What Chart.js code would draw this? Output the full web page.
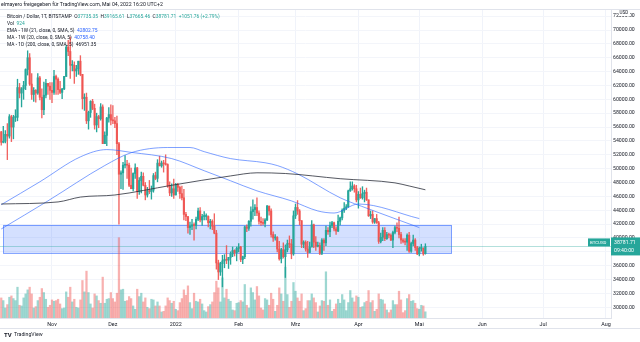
<!DOCTYPE html>
<html>
<head>
<meta charset="utf-8">
<script src="https://cdn.jsdelivr.net/npm/chart.js@4.4.0/dist/chart.umd.min.js"></script>
<style>
html, body { margin: 0; padding: 0; background: #fff; }
#wrap { width: 640px; height: 342px; }
</style>
</head>
<body>
<div id="wrap"><canvas id="myChart" width="640" height="342"></canvas></div>
<script>
// BTC/USD daily candles (Bitstamp), first candle on 2021-10-07
const startDate = '2021-10-07';

const opens = [
    55300, 53800, 53950, 54950, 54700, 57500, 56000, 57400, 57400, 61700, 60900, 61500, 62000, 64300, 66000, 62200, 60700, 61300, 60900, 63100, 60300, 58500, 60600, 62300, 61900,
    61300, 61000, 63300, 62900, 61400, 61000, 61500, 63300, 67500, 66900, 64900, 64900, 64100, 64400, 65500, 63600, 60100, 60300, 56900, 58100, 59700, 58700, 56300, 57500, 57200, 58900, 53600, 54800, 57300, 57800,
    57000, 56900, 56500, 53600, 49200, 49400, 50500, 50600, 50500, 47600, 47100, 49300, 50100, 46700, 48300, 48900, 47600, 46200, 46800, 46700, 46900, 49000, 48600, 50800, 50400, 50800, 50700, 50600, 47500, 46500, 47100,
    46200, 47700, 47300, 46400, 45800, 43400, 43100, 41500, 41700, 41900, 41800, 42700, 43900, 42600, 43100, 43100, 43100, 42200, 42400, 41700, 40700, 36400, 35100, 36300, 36700, 36900, 36800, 37200, 37700, 38200, 37900,
    38500, 38700, 36900, 37300, 41600, 41400, 42400, 43800, 44100, 44400, 43600, 42400, 42200, 42100, 42600, 44600, 43900, 40500, 40000, 40100, 38400, 37000, 38300, 37300, 38300, 39200, 39100, 37700,
    43200, 44400, 43900, 42500, 39100, 39400, 38400, 37900, 38700, 41900, 39400, 38800, 38900, 37800, 39700, 39300, 41100, 40900, 41800, 42200, 41300, 41000, 42400, 42900, 44000, 44300, 44500, 46800, 47100, 47500, 47100,
    45500, 46300, 45800, 46400, 46600, 45500, 43200, 43400, 42300, 42800, 42200, 39500, 40100, 41100, 39900, 40500, 40400, 39700, 40800, 41500, 41400, 40500, 39700, 39500, 39400, 40400, 38100, 39200, 39700, 38600,
    37700, 38500, 38500, 37735.35
];
const highs = [
    55400, 56100, 55500, 56500, 57800, 57700, 57700, 58500, 62900, 62300, 61700, 62600, 64400, 67000, 66600, 63700, 61700, 61400, 63700, 63300, 61500, 62500, 62900, 62300, 62400,
    62400, 64200, 63500, 63100, 62600, 61600, 63300, 67800, 68500, 69000, 65600, 65400, 64900, 65500, 66300, 63600, 60800, 60900, 58300, 59800, 60000, 59300, 58000, 57700, 59400, 59200, 55300, 57400, 58800, 59200,
    59100, 57400, 57600, 53800, 49700, 50900, 51900, 51200, 50800, 50100, 49400, 50700, 50200, 48700, 49500, 49400, 48000, 47300, 48300, 47500, 49300, 49500, 51300, 51800, 51100, 51200, 52000, 50700, 48100, 47800, 48500,
    47900, 47900, 47500, 47500, 47000, 43700, 43100, 42300, 42700, 42200, 43000, 44300, 44400, 43400, 43800, 43500, 43200, 42700, 42600, 43500, 41100, 36800, 36500, 37500, 37600, 38900, 37200, 38000, 38700, 38300, 38700,
    39200, 38800, 37400, 41700, 41900, 42500, 44500, 45500, 44800, 45800, 43900, 43000, 42800, 42800, 44700, 44600, 44200, 40900, 40500, 40200, 39500, 38500, 39300, 39000, 39700, 40300, 39800, 43900,
    44900, 45400, 44100, 42500, 39600, 39600, 39500, 39400, 42500, 42000, 40200, 39400, 39300, 39900, 39900, 41700, 41500, 42300, 42400, 42300, 41600, 43300, 43000, 44200, 45100, 44800, 46900, 48100, 48100, 47700, 47600,
    46700, 47200, 47400, 46900, 47200, 45500, 43900, 43900, 42800, 43400, 42400, 40700, 41500, 41500, 40800, 40700, 40600, 41000, 41700, 42200, 43000, 40800, 39900, 39900, 40600, 40800, 39400, 40400, 39900, 38800,
    38700, 39100, 38600, 39165.61
];
const lows = [
    53400, 53700, 53700, 51300, 54400, 53900, 54300, 56800, 56900, 60200, 58900, 60000, 61400, 63500, 62000, 60000, 59700, 59600, 60700, 59900, 57300, 57800, 60200, 60700, 60000,
    59500, 60700, 60700, 60700, 60800, 60100, 61400, 63300, 66300, 63000, 64100, 62300, 63300, 63600, 63400, 58600, 58400, 56500, 55700, 57400, 58500, 55700, 55300, 55900, 57000, 53600, 53600, 53300, 56700, 56300,
    56500, 55900, 52000, 42000, 47100, 47000, 50100, 48600, 47400, 47100, 46800, 48600, 45700, 46300, 46500, 47500, 45500, 45900, 46400, 45600, 46600, 48400, 48100, 50400, 50200, 49500, 50500, 47300, 46100, 46000, 45700,
    46200, 46700, 45700, 45500, 42600, 42500, 40700, 40500, 41200, 39700, 41300, 42500, 42300, 41800, 42600, 42600, 41600, 41300, 41200, 40600, 35500, 34000, 34600, 32950, 35700, 36300, 35600, 36200, 37300, 37400, 36700,
    38000, 36600, 36300, 37000, 40900, 41100, 41700, 42700, 43200, 43200, 42000, 41800, 41900, 41600, 42500, 43300, 40100, 39500, 39700, 38000, 36800, 36400, 37100, 34300, 38000, 38600, 37000, 37500,
    42800, 43400, 41900, 38600, 38600, 38100, 37200, 37900, 38700, 38600, 38200, 38700, 37600, 37600, 38200, 38900, 40500, 40200, 41500, 41000, 40500, 40900, 41900, 42600, 43700, 44100, 44400, 46700, 46900, 46600, 45200,
    44300, 45700, 45600, 45200, 45400, 43100, 42800, 42100, 42100, 42100, 39200, 39300, 39600, 39600, 39800, 40000, 39600, 38600, 40600, 40900, 40000, 39200, 39300, 39000, 38200, 37900, 37900, 38900, 38200, 37600,
    37400, 38100, 37500, 37665.46
];
const closes = [
    53800, 53950, 54950, 54700, 57500, 56000, 57400, 57400, 61700, 60900, 61500, 62000, 64300, 66000, 62200, 60700, 61300, 60900, 63100, 60300, 58500, 60600, 62300, 61900, 61300,
    61000, 63300, 62900, 61400, 61000, 61500, 63300, 67500, 66900, 64900, 64900, 64100, 64400, 65500, 63600, 60100, 60300, 56900, 58100, 59700, 58700, 56300, 57500, 57200, 58900, 53600, 54800, 57300, 57800, 57000,
    56900, 56500, 53600, 49200, 49400, 50500, 50600, 50500, 47600, 47100, 49300, 50100, 46700, 48300, 48900, 47600, 46200, 46800, 46700, 46900, 49000, 48600, 50800, 50400, 50800, 50700, 50600, 47500, 46500, 47100, 46200,
    47700, 47300, 46400, 45800, 43400, 43100, 41500, 41700, 41900, 41800, 42700, 43900, 42600, 43100, 43100, 43100, 42200, 42400, 41700, 40700, 36400, 35100, 36300, 36700, 36900, 36800, 37200, 37700, 38200, 37900, 38500,
    38700, 36900, 37300, 41600, 41400, 42400, 43800, 44100, 44400, 43600, 42400, 42200, 42100, 42600, 44600, 43900, 40500, 40000, 40100, 38400, 37000, 38300, 37300, 38300, 39200, 39100, 37700, 43200,
    44400, 43900, 42500, 39100, 39400, 38400, 37900, 38700, 41900, 39400, 38800, 38900, 37800, 39700, 39300, 41100, 40900, 41800, 42200, 41300, 41000, 42400, 42900, 44000, 44300, 44500, 46800, 47100, 47500, 47100, 45500,
    46300, 45800, 46400, 46600, 45500, 43200, 43400, 42300, 42800, 42200, 39500, 40100, 41100, 39900, 40500, 40400, 39700, 40800, 41500, 41400, 40500, 39700, 39500, 39400, 40400, 38100, 39200, 39700, 38600, 37700,
    38500, 38500, 37700, 38781.71
];
const volumes = [
    3000, 2600, 1500, 2000, 3100, 3300, 2900, 2600, 4600, 1900, 1800, 3000, 3600, 4200, 4600, 3600, 1500, 1700, 2600, 3100, 4400, 3800, 2800, 1600, 1900,
    2700, 2500, 2600, 2800, 2100, 1400, 1500, 3900, 3100, 4600, 2400, 2800, 1600, 1500, 2700, 5600, 3900, 7000, 3800, 2100, 1500, 3600, 3300, 2600, 2200, 6100, 2200, 2800, 2900, 3800,
    2900, 2400, 3700, 12000, 4200, 4300, 2500, 2600, 3200, 2900, 1800, 1300, 4300, 3200, 3700, 2400, 3000, 1600, 1400, 2800, 2700, 1800, 2400, 1800, 900, 1000, 1800, 3000, 2600, 2200, 2500,
    1300, 1100, 2300, 2900, 4200, 3400, 4800, 2300, 1400, 3700, 2500, 2400, 2800, 2100, 1100, 900, 1700, 2000, 2400, 3800, 5500, 4500, 2400, 6000, 3000, 4300, 2800, 2500, 1200, 1100, 2200,
    2300, 2600, 2400, 5000, 1900, 1500, 4500, 3800, 2700, 4700, 3300, 1500, 1200, 2900, 2700, 1900, 3700, 2800, 1000, 1900, 4500, 3600, 2500, 7600, 3500, 1600, 2500, 5300,
    4000, 3000, 2500, 3600, 1100, 1400, 2600, 2600, 3600, 3000, 2300, 900, 1800, 2600, 2500, 6900, 1900, 2700, 1000, 1300, 2100, 2800, 2200, 3500, 2700, 1100, 2300, 4100, 3000, 2400, 3300,
    3100, 1600, 1700, 2300, 2500, 4100, 2300, 2600, 1000, 1300, 3600, 2800, 2700, 2100, 1200, 800, 1200, 2600, 2000, 2000, 4000, 2700, 800, 1100, 2900, 3500, 2500, 2600, 2200, 1400,
    1300, 1900, 1800, 924
];

// indicator lines (knots)
const emaDates = ['2021-10-07', '2021-10-26', '2021-11-15', '2021-11-28', '2021-12-10', '2021-12-30', '2022-01-15', '2022-01-28', '2022-02-10', '2022-02-27', '2022-03-12', '2022-03-20', '2022-04-01', '2022-05-01'];
const emaValues = [44800, 48100, 51700, 52750, 52350, 51450, 49700, 48250, 46800, 45350, 43900, 43600, 44900, 42800];

const smaDates = ['2021-10-07', '2021-10-30', '2021-11-27', '2021-12-10', '2021-12-28', '2022-01-08', '2022-01-15', '2022-01-28', '2022-02-14', '2022-02-20', '2022-03-02', '2022-03-23', '2022-04-06', '2022-05-01'];
const smaValues = [41300, 45350, 50450, 52300, 53050, 53050, 52450, 51450, 50850, 50450, 49250, 45800, 44200, 41500];

const ma200Dates = ['2021-10-07', '2021-11-04', '2021-11-15', '2021-12-02', '2021-12-30', '2022-01-28', '2022-02-10', '2022-02-24', '2022-03-23', '2022-04-19', '2022-04-26', '2022-05-04'];
const ma200Values = [44900, 45200, 45900, 46200, 47600, 48950, 49400, 49300, 48550, 47950, 47500, 46951.35];

// drawn range box
const boxFrom = '2021-10-08';
const boxTo = '2022-05-17';
const boxTop = 41900;
const boxBottom = 37800;

// axes
const priceTicks = [30000, 32000, 34000, 36000, 38000, 40000, 42000, 44000, 46000, 48000, 50000, 52000, 54000, 56000, 58000, 60000, 62000, 64000, 66000, 68000, 70000, 72000];
const monthDates = ['2021-11-01', '2021-12-01', '2022-01-01', '2022-02-01', '2022-03-01', '2022-04-01', '2022-05-01', '2022-06-01', '2022-07-01', '2022-08-01'];
const monthLabels = ['Nov', 'Dez', '2022', 'Feb', 'Mrz', 'Apr', 'Mai', 'Jun', 'Jul', 'Aug'];

const UP = '#26a69a';
const DOWN = '#ef5350';
const FONT = 'Roboto, "Liberation Sans", sans-serif';

function dayNum(s) {
    const p = s.split('-').map(Number);
    return (Date.UTC(p[0], p[1] - 1, p[2]) - Date.UTC(2021, 9, 1)) / 86400000;
}

const day0 = dayNum(startDate);
const wicks = [], bodies = [], vols = [], candleCol = [], volCol = [];
for (let i = 0; i < closes.length; i++) {
    const x = day0 + i;
    const up = closes[i] >= opens[i];
    wicks.push({ x: x, y: [lows[i], highs[i]] });
    bodies.push({ x: x, y: [opens[i], closes[i]] });
    vols.push({ x: x, y: volumes[i] });
    candleCol.push(up ? UP : 'rgba(239,83,80,0.9)');
    volCol.push(up ? 'rgba(38,166,154,0.45)' : 'rgba(239,83,80,0.45)');
}

function toPoints(dates, values) {
    return dates.map((d, i) => ({ x: dayNum(d), y: values[i] }));
}

const monthDays = monthDates.map(dayNum);

function runs(ctx, x, y, parts) {
    parts.forEach(([text, color]) => {
        ctx.fillStyle = color;
        ctx.fillText(text, x, y);
        x += ctx.measureText(text).width;
    });
}

const boxPlugin = {
    id: 'box',
    beforeDatasetsDraw(chart) {
        const { ctx, chartArea, scales: { x, y } } = chart;
        const x1 = x.getPixelForValue(dayNum(boxFrom));
        const x2 = x.getPixelForValue(dayNum(boxTo));
        const y1 = y.getPixelForValue(boxTop);
        const y2 = y.getPixelForValue(boxBottom);
        ctx.save();
        ctx.fillStyle = 'rgba(41,98,255,0.2)';
        ctx.fillRect(x1, y1, x2 - x1, y2 - y1);
        ctx.strokeStyle = 'rgba(41,98,255,0.55)';
        ctx.lineWidth = 1;
        ctx.strokeRect(Math.round(x1) + 0.5, Math.round(y1) + 0.5, Math.round(x2 - x1), Math.round(y2 - y1));
        // last price line
        const py = Math.round(y.getPixelForValue(closes[closes.length - 1])) + 0.5;
        ctx.strokeStyle = 'rgba(38,166,154,0.35)';
        ctx.beginPath();
        ctx.moveTo(chartArea.left, py);
        ctx.lineTo(chartArea.right, py);
        ctx.stroke();
        ctx.restore();
    }
};

const overlayPlugin = {
    id: 'overlay',
    afterDraw(chart) {
        const { ctx, chartArea, scales: { y } } = chart;
        ctx.save();
        ctx.textBaseline = 'middle';
        ctx.textAlign = 'left';

        // frame lines
        ctx.strokeStyle = '#e0e3eb';
        ctx.lineWidth = 1;
        ctx.beginPath();
        ctx.moveTo(0, 9.5); ctx.lineTo(640, 9.5);
        ctx.moveTo(0, 328.5); ctx.lineTo(640, 328.5);
        ctx.stroke();

        ctx.font = '5.2px ' + FONT;
        ctx.fillStyle = '#131722';
        ctx.fillText('elmayero freigegeben für TradingView.com, Mai 04, 2022 16:20 UTC+2', 1, 5);

        const dark = '#131722';
        const blue = '#2962ff';
        ctx.font = '4.9px ' + FONT;
        runs(ctx, 7, 16.5, [
            ['Bitcoin / Dollar, 1T, BITSTAMP  O', dark], ['37735.35', UP],
            ['  H', dark], ['39165.61', UP], ['  L', dark], ['37665.46', UP],
            ['  C', dark], ['38781.71', UP], ['  +1051.76 (+2.79%)', UP]
        ]);
        runs(ctx, 7, 23.5, [['Vol  ', dark], ['924', UP]]);
        runs(ctx, 7, 30.5, [['EMA - 1W (21, close, 0, SMA, 5)  ', dark], ['42802.75', blue]]);
        runs(ctx, 7, 37.5, [['MA - 1W (20, close, 0, SMA, 5)  ', dark], ['40758.40', blue]]);
        runs(ctx, 7, 44.5, [['MA - 1D (200, close, 0, SMA, 5)  ', dark], ['46951.35', dark]]);

        // currency tag on the price scale
        ctx.fillStyle = '#ffffff';
        ctx.fillRect(619, 10, 11, 6);
        ctx.font = '4.6px ' + FONT;
        ctx.fillStyle = '#131722';
        ctx.fillText('USD', 619.5, 13.2);

        // last price labels
        const py = y.getPixelForValue(closes[closes.length - 1]);
        ctx.fillStyle = UP;
        ctx.fillRect(588, py - 8, 22, 8);
        ctx.fillRect(chartArea.right, py - 9, 29, 18);
        ctx.fillStyle = '#ffffff';
        ctx.font = '4.4px ' + FONT;
        ctx.fillText('BTCUSD', 590, py - 4);
        ctx.font = '5.2px ' + FONT;
        ctx.fillText('38781.71', 614, py - 4);
        ctx.fillText('09:40:00', 614, py + 4);

        // brand
        ctx.fillStyle = '#131722';
        ctx.font = 'bold 6px ' + FONT;
        ctx.fillText('TV', 4, 335);
        ctx.font = '5.2px ' + FONT;
        ctx.fillText('TradingView', 14, 335);
        ctx.restore();
    }
};

const barBase = { type: 'bar', grouped: false, borderWidth: 0, borderSkipped: false, minBarLength: 1 };
const lineBase = { type: 'line', pointRadius: 0, borderWidth: 1, fill: false, cubicInterpolationMode: 'monotone' };

const myChart = new Chart(document.getElementById('myChart'), {
    type: 'bar',
    data: {
        datasets: [
            Object.assign({}, barBase, { data: vols, yAxisID: 'yv', backgroundColor: volCol, barThickness: 1.6, order: 5, minBarLength: 0 }),
            Object.assign({}, barBase, { data: wicks, yAxisID: 'y', backgroundColor: candleCol, barThickness: 0.7, order: 3 }),
            Object.assign({}, barBase, { data: bodies, yAxisID: 'y', backgroundColor: candleCol, barThickness: 1.5, order: 2 }),
            Object.assign({}, lineBase, { data: toPoints(ma200Dates, ma200Values), yAxisID: 'y', borderColor: 'rgba(42,46,57,0.8)', order: 1 }),
            Object.assign({}, lineBase, { data: toPoints(smaDates, smaValues), yAxisID: 'y', borderColor: 'rgba(41,98,255,0.6)', order: 1 }),
            Object.assign({}, lineBase, { data: toPoints(emaDates, emaValues), yAxisID: 'y', borderColor: 'rgba(41,98,255,0.6)', order: 1 })
        ]
    },
    options: {
        responsive: false,
        animation: false,
        devicePixelRatio: 1,
        layout: { padding: { top: 10, left: 0, right: 0, bottom: 0 } },
        plugins: { legend: { display: false }, tooltip: { enabled: false } },
        scales: {
            x: {
                type: 'linear',
                min: 5.38,
                max: 306.47,
                offset: false,
                grid: { color: '#f0f3fa', drawTicks: false, offset: false },
                border: { color: '#e0e3eb' },
                ticks: {
                    autoSkip: false, maxRotation: 0, padding: 3, color: '#131722',
                    font: { size: 5.4, family: FONT },
                    callback: (v) => monthLabels[monthDays.indexOf(v)]
                },
                afterBuildTicks: (s) => { s.ticks = monthDays.map((v) => ({ value: v })); },
                afterFit: (s) => { s.height = 24; }
            },
            y: {
                type: 'linear',
                position: 'right',
                min: 28457,
                max: 72885,
                grid: { color: '#f3f5fa', drawTicks: false },
                border: { color: '#e0e3eb' },
                ticks: {
                    padding: 2, color: '#131722',
                    font: { size: 5.2, family: FONT },
                    callback: (v) => v.toFixed(2)
                },
                afterBuildTicks: (s) => { s.ticks = priceTicks.map((v) => ({ value: v })); },
                afterFit: (s) => { s.width = 29; }
            },
            yv: { type: 'linear', display: false, min: 0, max: 46000 }
        }
    },
    plugins: [boxPlugin, overlayPlugin]
});
</script>
</body>
</html>
